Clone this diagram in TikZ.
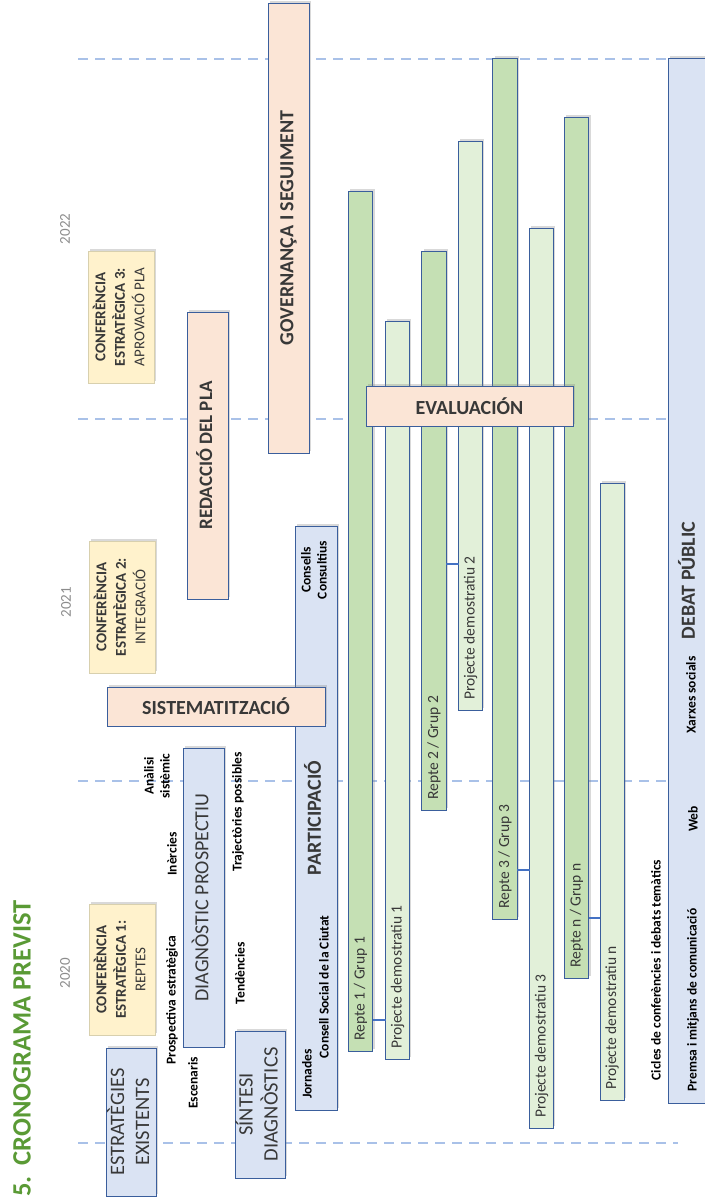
\documentclass[tikz,border=0pt]{standalone}
\usepackage{fontspec}
\setmainfont{Carlito}
\usepackage{graphicx}
\usetikzlibrary{shadows}

\definecolor{fonsblau}{HTML}{DAE3F3}
\definecolor{fonsrosa}{HTML}{FBE5D6}
\definecolor{fonsgroc}{HTML}{FFF2CC}
\definecolor{fonsverd}{HTML}{C5E0B4}
\definecolor{fonsverdclar}{HTML}{E2F0D9}
\definecolor{vora}{HTML}{3A5E9C}
\definecolor{voragroga}{HTML}{D8D0AE}
\definecolor{blauenllac}{HTML}{4472C4}
\definecolor{blaugraella}{HTML}{A9C1E8}
\definecolor{gris}{HTML}{8C8C8C}
\definecolor{fosc}{HTML}{383838}
\definecolor{verdtitol}{HTML}{5A9A35}

\newcommand{\vtext}[1]{\rotatebox{90}{\begin{tabular}{@{}c@{}}#1\end{tabular}}}

\begin{document}
\begin{tikzpicture}[x=1pt, y=-1pt,
		caixa/.style={draw=vora, line width=0.9pt, inner sep=0pt, outer sep=0pt, text=fosc,
			drop shadow={shadow xshift=1.8pt, shadow yshift=1.8pt, opacity=0.3}},
		blava/.style={caixa, fill=fonsblau},
		rosa/.style={caixa, fill=fonsrosa},
		groga/.style={caixa, draw=voragroga, line width=0.6pt, fill=fonsgroc, font=\fontsize{15}{19.5}\selectfont},
		gran/.style={font=\fontsize{20}{24}\selectfont\bfseries},
		repte/.style={caixa, fill=fonsverd, minimum width=24.5pt},
		projecte/.style={caixa, fill=fonsverdclar, minimum width=24pt},
		vertical/.style={rotate=90, inner sep=0pt},
		etiqueta/.style={vertical, align=center, font=\fontsize{13.5}{16}\selectfont\bfseries},
		textbarra/.style={vertical, anchor=west, text=fosc, font=\fontsize{15.5}{18}\selectfont},
		any/.style={vertical, text=gris, font=\fontsize{15}{18}\selectfont},
		enllac/.style={draw=blauenllac, line width=2pt},
		graella/.style={draw=blaugraella, line width=1.4pt, dash pattern=on 10pt off 7pt}]
	\useasboundingbox (0,0) rectangle (704,1204);

	% linies dels anys
	\draw[graella] (78,59) -- (678,59);
	\draw[graella] (78,419) -- (678,419);
	\draw[graella] (78,781) -- (678,781);
	\draw[graella] (78,1143) -- (678,1143);

	\node[vertical, anchor=west, text=verdtitol, font=\fontsize{26.5}{30}\selectfont\bfseries] (titol) at (22,1197) {5.\hspace{11pt}CRONOGRAMA PREVIST};
	\node[any] (a2020) at (65,973) {2020};
	\node[any] (a2021) at (66,602) {2021};
	\node[any] (a2022) at (65,229) {2022};

	% conferencies
	\node[groga, minimum width=66pt, minimum height=131pt] (conf1) at (122,969.5) {\vtext{\textbf{CONFERÈNCIA}\\\textbf{ESTRATÈGICA 1:}\\REPTES}};
	\node[groga, minimum width=66pt, minimum height=132pt] (conf2) at (122,607) {\vtext{\textbf{CONFERÈNCIA}\\\textbf{ESTRATÈGICA 2:}\\INTEGRACIÓ}};
	\node[groga, minimum width=66pt, minimum height=132pt] (conf3) at (121,317) {\vtext{\textbf{CONFERÈNCIA}\\\textbf{ESTRATÈGICA 3:}\\APROVACIÓ PLA}};

	% diagnosi
	\node[blava, minimum width=49pt, minimum height=148pt, font=\fontsize{20.5}{25}\selectfont] (estrat) at (131.5,1122) {\vtext{ESTRATÈGIES\\EXISTENTS}};
	\node[blava, minimum width=48pt, minimum height=147pt, font=\fontsize{20.5}{25}\selectfont] (sintesi) at (260,1104.5) {\vtext{SÍNTESI\\DIAGNÒSTICS}};
	\node[blava, minimum width=41pt, minimum height=299pt, font=\fontsize{20}{24}\selectfont] (diag) at (203.5,897.5) {\vtext{DIAGNÒSTIC PROSPECTIU}};
	\node[etiqueta] (prosp) at (172,1000) {Prospectiva estratègica};
	\node[etiqueta] (escen) at (193,1083) {Escenaris};
	\node[etiqueta] (inerc) at (172,854) {Inèrcies};
	\node[etiqueta] (anal) at (157,776) {Anàlisi\\sistèmic};
	\node[etiqueta] (tend) at (240,973) {Tendències};
	\node[etiqueta] (traj) at (238,812) {Trajectòries possibles};

	% participacio
	\node[blava, gran, minimum width=42pt, minimum height=584pt] (partic) at (316,818) {\vtext{PARTICIPACIÓ}};
	\node[etiqueta] (jorn) at (307,1074) {Jornades};
	\node[etiqueta] (consell) at (324,987) {Consell Social de la Ciutat};
	\node[etiqueta] (consult) at (314,570) {Consells\\Consultius};

	\node[rosa, gran, minimum width=218pt, minimum height=39pt] (sistem) at (216,706.5) {SISTEMATITZACIÓ};
	\node[rosa, gran, font=\fontsize{19}{23}\selectfont\bfseries, minimum width=41pt, minimum height=287pt] (redac) at (207.5,455.5) {\vtext{REDACCIÓ DEL PLA}};
	\node[rosa, gran, minimum width=41pt, minimum height=450pt] (govern) at (288.5,228) {\vtext{GOVERNANÇA I SEGUIMENT}};

	% reptes i projectes
	\node[repte, minimum height=860pt] (r1) at (360.5,621) {};
	\node[projecte, minimum height=738pt] (p1) at (397.5,690) {};
	\node[repte, minimum height=559pt] (r2) at (434,530.5) {};
	\node[projecte, minimum height=569pt] (p2) at (470.5,425.5) {};
	\node[repte, minimum height=861pt] (r3) at (505,488.5) {};
	\node[projecte, minimum height=900pt] (p3) at (541.5,678) {};
	\node[repte, minimum height=861pt] (rn) at (576.5,547.5) {};
	\node[projecte, minimum height=617pt] (pn) at (612,791.5) {};

	\node[textbarra] (tr1) at ([yshift=10pt]r1.south) {Repte 1 / Grup 1};
	\node[textbarra] (tp1) at ([yshift=10pt]p1.south) {Projecte demostratiu 1};
	\node[textbarra] (tr2) at ([yshift=10pt]r2.south) {Repte 2 / Grup 2};
	\node[textbarra] (tp2) at ([yshift=10pt]p2.south) {Projecte demostratiu 2};
	\node[textbarra] (tr3) at ([yshift=10pt]r3.south) {Repte 3 / Grup 3};
	\node[textbarra] (tp3) at ([yshift=10pt]p3.south) {Projecte demostratiu 3};
	\node[textbarra] (trn) at ([yshift=10pt]rn.south) {Repte n / Grup n};
	\node[textbarra] (tpn) at ([yshift=10pt]pn.south) {Projecte demostratiu n};

	\draw[enllac] (r1.east |- 0,1020) -- (p1.west |- 0,1020);
	\draw[enllac] (r2.east |- 0,564) -- (p2.west |- 0,564);
	\draw[enllac] (r3.east |- 0,870) -- (p3.west |- 0,870);
	\draw[enllac] (rn.east |- 0,918) -- (pn.west |- 0,918);

	\node[rosa, gran, minimum width=207pt, minimum height=40pt] (aval) at (469.5,406) {EVALUACIÓN};

	% debat public
	\node[blava, gran, minimum width=44pt, minimum height=1045pt] (debat) at (690,580.5) {\vtext{DEBAT PÚBLIC}};
	\node[etiqueta] (cicles) at (656,970) {Cicles de conferències i debats temàtics};
	\node[etiqueta] (premsa) at (693,1000) {Premsa i mitjans de comunicació};
	\node[etiqueta] (web) at (693,819) {Web};
	\node[etiqueta] (xarxes) at (691,695) {Xarxes socials};
\end{tikzpicture}
\end{document}
